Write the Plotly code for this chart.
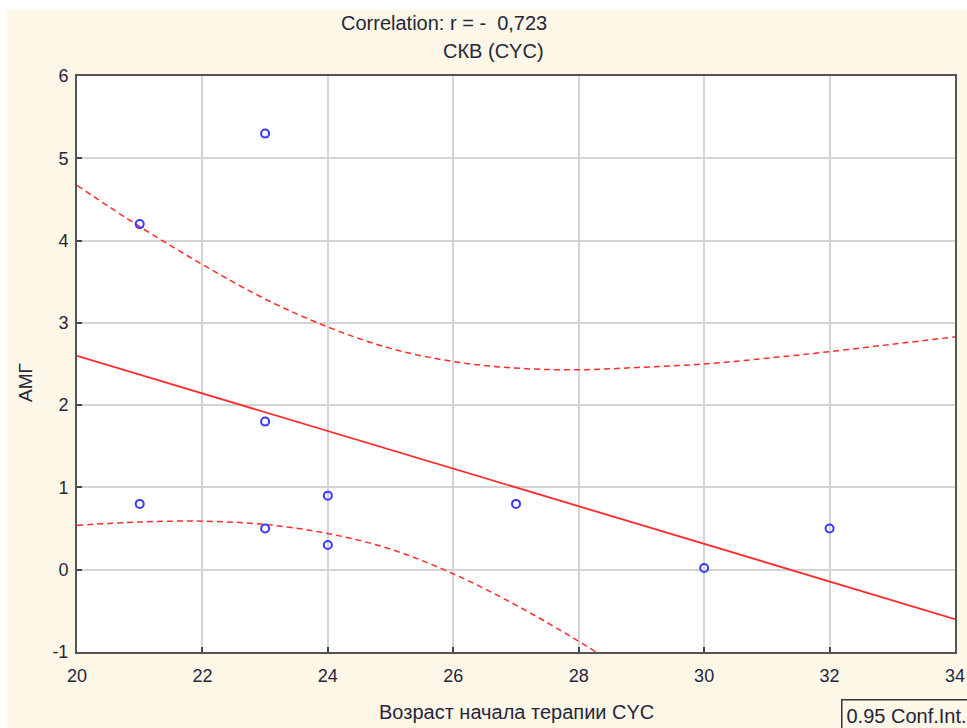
import plotly.graph_objects as go

# Data points
age = [21, 21, 23, 23, 23, 24, 24, 27, 30, 32]
amg = [4.2, 0.8, 5.3, 1.8, 0.5, 0.9, 0.3, 0.8, 0.02, 0.5]

# Regression line (read endpoints)
fit_x = [20, 34]
fit_y = [2.6, -0.6]

# 0.95 confidence band (read values)
band_x = [20, 21, 22, 23, 24, 25, 26, 27, 28, 29, 30, 31, 32, 33, 34]
upper_y = [4.67, 4.17, 3.71, 3.29, 2.95, 2.69, 2.53, 2.45, 2.43, 2.46, 2.50, 2.57, 2.65, 2.74, 2.83]
lower_x = [20, 21, 22, 23, 24, 25, 26, 27, 28, 29, 30]
lower_y = [0.54, 0.58, 0.59, 0.55, 0.44, 0.25, -0.05, -0.43, -0.87, -1.35, -1.85]

x_ticks = [20, 22, 24, 26, 28, 30, 32, 34]
y_ticks = [-1, 0, 1, 2, 3, 4, 5, 6]
y_tick_text = ["-1", "0", "1", "2", "3", "4", "5", "6"]

RED = "#ff2a2a"
BLUE = "#3a3aff"
TXT = "#26263a"
FONT = "Liberation Sans, Arial, sans-serif"

fig = go.Figure()
fig.add_trace(go.Scatter(x=band_x, y=upper_y, mode="lines", line=dict(color=RED, width=1.5, dash="6px,4px", shape="spline"), hoverinfo="skip"))
fig.add_trace(go.Scatter(x=lower_x, y=lower_y, mode="lines", line=dict(color=RED, width=1.5, dash="6px,4px", shape="spline"), hoverinfo="skip"))
fig.add_trace(go.Scatter(x=fit_x, y=fit_y, mode="lines", line=dict(color=RED, width=1.8)))
fig.add_trace(go.Scatter(x=age, y=amg, mode="markers",
                         marker=dict(symbol="circle-open", size=8, color=BLUE, line=dict(width=2, color=BLUE))))

L, R, T, B = 77, 12, 76, 76
W, H = 967, 728
pw, ph = W - L - R, H - T - B

def px(xp):
    return (xp - L) / pw

def py(yp):
    return (H - B - yp) / ph

axis_common = dict(showgrid=True, gridcolor="#d4d4d4", gridwidth=2,
                   showline=True, linecolor="#555555", linewidth=2, mirror=True,
                   ticks="inside", ticklen=5, tickcolor="#444444", tickwidth=1.5,
                   zeroline=False, automargin=False,
                   tickfont=dict(family=FONT, size=18, color=TXT))

fig.update_layout(
    width=W, height=H,
    margin=dict(l=L, r=R, t=T, b=B),
    paper_bgcolor="#fdf7e8", plot_bgcolor="white",
    showlegend=False,
    xaxis=dict(range=[20, 34], tickvals=x_ticks, ticklabelstandoff=6, **axis_common),
    yaxis=dict(range=[-1, 6], tickvals=y_ticks, ticktext=y_tick_text, ticklabelstandoff=3, **axis_common),
    font=dict(family=FONT, color=TXT),
    shapes=[
        dict(type="rect", xref="paper", yref="paper", x0=px(-5), x1=px(W + 5), y0=py(10), y1=py(-5),
             fillcolor="white", line=dict(width=0), layer="below"),
        dict(type="rect", xref="paper", yref="paper", x0=px(-5), x1=px(7), y0=py(H + 5), y1=py(-5),
             fillcolor="white", line=dict(width=0), layer="below"),
    ],
    annotations=[
        dict(text="Correlation: r = -  0,723", xref="paper", yref="paper", x=px(444), y=py(23),
             showarrow=False, font=dict(size=20, color=TXT), xanchor="center", yanchor="middle"),
        dict(text="СКВ (CYC)", xref="paper", yref="paper", x=px(493), y=py(51),
             showarrow=False, font=dict(size=20, color=TXT), xanchor="center", yanchor="middle"),
        dict(text="АМГ", xref="paper", yref="paper", x=px(25), y=py(383), textangle=-90,
             showarrow=False, font=dict(size=19, color=TXT), xanchor="center", yanchor="middle"),
        dict(text="Возраст начала терапии CYC", xref="paper", yref="paper", x=px(516), y=py(712),
             showarrow=False, font=dict(size=20, color=TXT), xanchor="center", yanchor="middle"),
        dict(text="0.95 Conf.Int.", xref="paper", yref="paper", x=px(841), y=py(715),
             showarrow=False, font=dict(size=20, color=TXT), xanchor="left", yanchor="middle",
             bordercolor="#333333", borderwidth=1.5, borderpad=4, bgcolor="#fdf7e8"),
    ],
)

fig.write_html("out.html")
